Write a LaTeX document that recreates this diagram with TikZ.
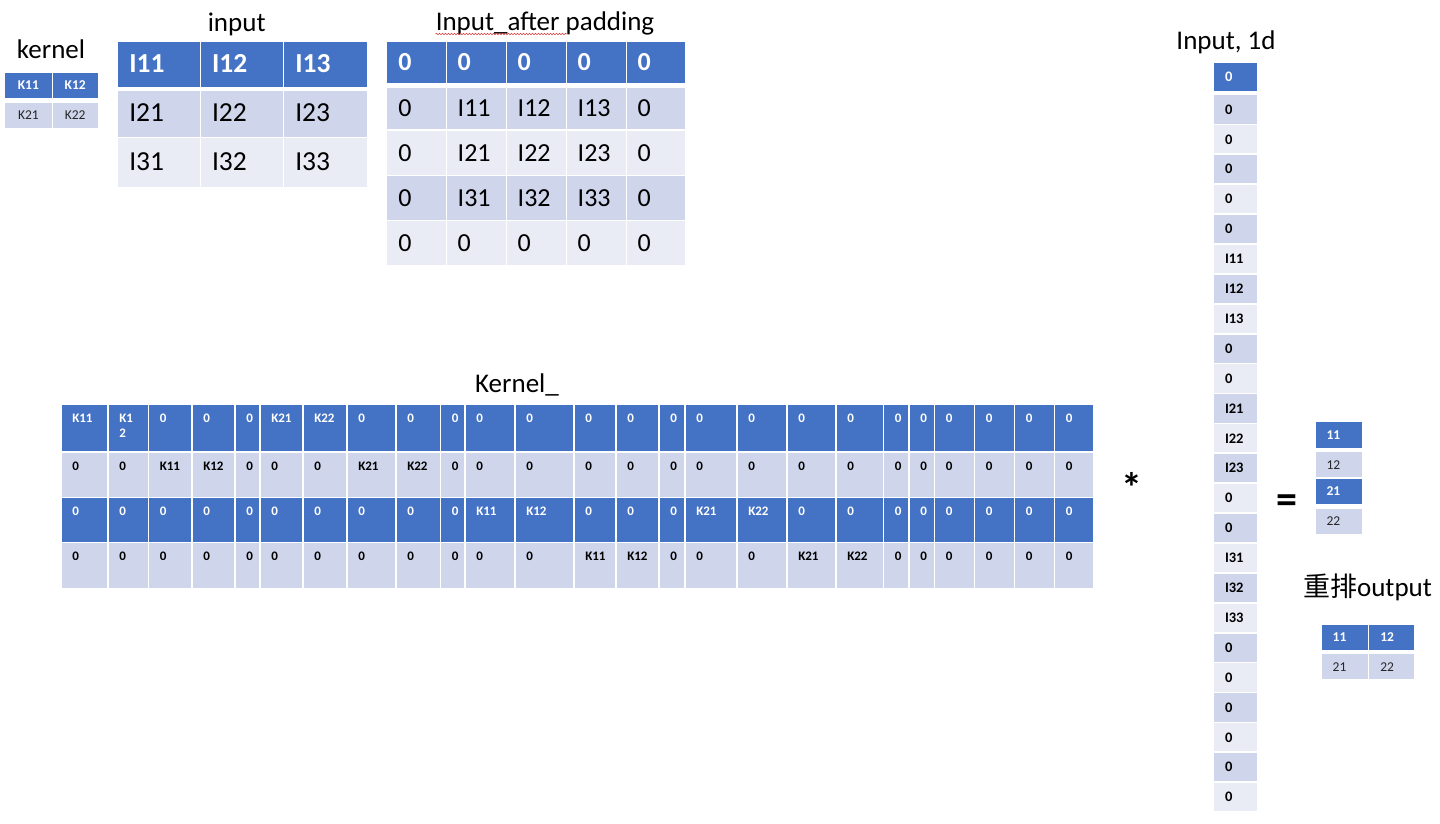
\documentclass[tikz,border=0pt]{standalone}
\usepackage{fontspec}
\setmainfont{Carlito}
\newfontfamily\cjkfont{Noto Sans CJK SC}
\usetikzlibrary{calc,decorations.pathmorphing}
\definecolor{hdrblue}{HTML}{4472C4}
\definecolor{bandA}{HTML}{CFD5EA}
\definecolor{bandB}{HTML}{E9EBF5}
\definecolor{squig}{HTML}{E03C3C}
\newcommand\mkcell[6]{\node[#1, minimum width={(#5)-(#3)}, minimum height={(#6)-(#4)}] (#2) at (#3,#4) {};}
\begin{document}
\begin{tikzpicture}[x=1pt,y=-1pt,
  box/.style={draw=none, inner sep=0pt, outer sep=0pt, anchor=north west},
  hdr/.style={box, fill=hdrblue},
  bA/.style={box, fill=bandA},
  bB/.style={box, fill=bandB},
  title/.style={inner sep=0pt, anchor=base, font=\fontsize{27}{32}\selectfont},
  txt/.style={inner sep=0pt, outer sep=0pt},
  smH/.style={txt, font=\fontsize{13.5}{16}\selectfont\bfseries, text=white},
  smL/.style={txt, font=\fontsize{13.5}{16}\selectfont, text=black!85},
  bigH/.style={txt, anchor=west, font=\fontsize{27.5}{32}\selectfont\bfseries, text=white},
  bigL/.style={txt, anchor=west, font=\fontsize{27.5}{32}\selectfont, text=black},
  padH/.style={txt, anchor=west, font=\fontsize{26}{30}\selectfont\bfseries, text=white},
  padL/.style={txt, anchor=west, font=\fontsize{26}{30}\selectfont, text=black},
  kmH/.style={txt, anchor=base west, font=\fontsize{13}{15}\selectfont\bfseries, text=white},
  kmL/.style={txt, anchor=base west, font=\fontsize{13}{15}\selectfont\bfseries, text=black},
  odH/.style={txt, anchor=west, font=\fontsize{14.5}{16}\selectfont\bfseries, text=white},
  odL/.style={txt, anchor=west, font=\fontsize{14.5}{16}\selectfont\bfseries, text=black},
  big/.style={txt, font=\fontsize{42}{42}\selectfont\bfseries}
]
\useasboundingbox[fill=white] (0,0) rectangle (1440,823);

% ---------- titles ----------
\node[title] (t-kernel) at (51,58.3) {kernel};
\node[title] (t-input) at (236.7,31) {input};
\node[title] (t-pad) at (545,30.5) {Input\_after padding};
\node[title] (t-kern2) at (517,392.7) {Kernel\_};
\node[title] (t-1d) at (1226,49.3) {Input, 1d};
\node[title] (t-out) at (1367.5,596.7) {{\cjkfont 重排}output};
\draw[squig, line width=0.6pt, decorate, decoration={snake, segment length=3pt, amplitude=0.8pt}]
  ($(t-pad.base west)+(0,3.5)$) -- ($(t-pad.base west)+(131,3.5)$);

% ---------- kernel 2x2 ----------
\mkcell{hdr}{ker-11}{5}{72.7}{51.7}{98.3}
\mkcell{hdr}{ker-12}{52.7}{72.7}{97.7}{98.3}
\mkcell{bA}{ker-21}{5}{102.7}{51.7}{127.7}
\mkcell{bA}{ker-22}{52.7}{102.7}{97.7}{127.7}
\node[smH] (kert-11) at (ker-11.center) {K11};
\node[smH] (kert-12) at (ker-12.center) {K12};
\node[smL] (kert-21) at (ker-21.center) {K21};
\node[smL] (kert-22) at (ker-22.center) {K22};

% ---------- input 3x3 ----------
\foreach \r/\ya/\yb/\s/\ts in {1/41.7/86.7/hdr/bigH, 2/90.7/136.7/bA/bigL, 3/137.7/186.7/bB/bigL}{
  \foreach \c/\xa/\xb in {1/118.3/200, 2/201/283.3, 3/284.3/366.7}{
    \mkcell{\s}{in-\r\c}{\xa}{\ya}{\xb}{\yb}
    \node[\ts] (int-\r\c) at ($(in-\r\c.west)+(11,-1)$) {I\r\c};
  }
}

% ---------- input after padding 5x5 ----------
\foreach \r/\ya/\yb/\s/\ts in {1/41.7/83.3/hdr/padH, 2/87.7/129.3/bA/padL, 3/130.7/175/bB/padL, 4/176/220/bA/padL, 5/221/265/bB/padL}{
  \foreach \c/\xa/\xb in {1/387.3/445.7, 2/446.7/505.7, 3/506.7/565.7, 4/566.7/625.7, 5/626.7/685}{
    \mkcell{\s}{pd-\r\c}{\xa}{\ya}{\xb}{\yb}
    \pgfmathtruncatemacro\ri{\r-1}
    \pgfmathtruncatemacro\ci{\c-1}
    \pgfmathtruncatemacro\inside{(\r>1)&&(\r<5)&&(\c>1)&&(\c<5)}
    \node[\ts] (pdt-\r\c) at ($(pd-\r\c.west)+(11,0)$) {\ifnum\inside=1 I\ri\ci\else 0\fi};
  }
}

% ---------- Kernel_ 4x25 ----------
\foreach \r/\o/\ya/\yb/\s/\ts in {1/0/405/450.5/hdr/kmH, 2/2/452.5/496.8/bA/kmL, 3/10/497.8/542.3/hdr/kmH, 4/12/543.3/588.3/bA/kmL}{
  \foreach \c/\xa/\xb in {1/61/108, 2/108/148.5, 3/148.5/192, 4/192/235, 5/235/260, 6/260/303, 7/303/347, 8/347/396, 9/396/440.5, 10/440.5/465, 11/465/515, 12/515/574, 13/574/616, 14/616/659, 15/659/685, 16/685/737, 17/737/787, 18/787/836, 19/836/883.5, 20/883.5/909, 21/909/934.5, 22/934.5/974.5, 23/974.5/1014.5, 24/1014.5/1054.5, 25/1054.5/1094}{
    \mkcell{\s}{km-\r-\c}{\xa+0.75}{\ya}{\xb-0.75}{\yb}
    \pgfmathtruncatemacro\d{\c-\o}
    \node[\ts] (kmt-\r-\c) at ($(km-\r-\c.north west)+(10.5,17.5)$) {\ifcase\d\relax 0\or K11\or \ifnum\r=1 K1\else K12\fi\or 0\or 0\or 0\or K21\or K22\else 0\fi};
  }
}
\node[kmH] (kmt-1-2b) at ($(km-1-2.north west)+(10.5,32.5)$) {2};

% ---------- Input, 1d ----------
\mkcell{hdr}{od-1}{1214}{63.3}{1257.3}{91}
\node[odH] (odt-1) at ($(od-1.west)+(11,0)$) {0};
\foreach \i/\t in {2/0,3/0,4/0,5/0,6/0,7/I11,8/I12,9/I13,10/0,11/0,12/I21,13/I22,14/I23,15/0,16/0,17/I31,18/I32,19/I33,20/0,21/0,22/0,23/0,24/0,25/0}{
  \pgfmathsetmacro\ya{95.3+(\i-2)*29.9}
  \pgfmathsetmacro\yb{\ya+28.2}
  \ifodd\i\def\st{bB}\else\def\st{bA}\fi
  \mkcell{\st}{od-\i}{1214}{\ya}{1257.3}{\yb}
  \node[odL] (odt-\i) at ($(od-\i.west)+(11,0)$) {\t};
}

% ---------- operators ----------
\node[big] (star) at (1132,487) {*};
\node[big] (eq) at (1287,504) {=};

% ---------- output column ----------
\mkcell{hdr}{oc-1}{1316}{422.3}{1362.3}{447.7}
\mkcell{bA}{oc-2}{1316}{452.3}{1362.3}{477.3}
\mkcell{hdr}{oc-3}{1316}{479}{1362.3}{504}
\mkcell{bA}{oc-4}{1316}{508.7}{1362.3}{533.7}
\node[smH, anchor=west] (oct-1) at ($(oc-1.west)+(10.5,0)$) {11};
\node[smL, anchor=west] (oct-2) at ($(oc-2.west)+(10.5,0)$) {12};
\node[smH, anchor=west] (oct-3) at ($(oc-3.west)+(10.5,0)$) {21};
\node[smL, anchor=west] (oct-4) at ($(oc-4.west)+(10.5,0)$) {22};

% ---------- rearranged output 2x2 ----------
\mkcell{hdr}{ro-11}{1321.7}{625}{1368.3}{650}
\mkcell{hdr}{ro-12}{1369.3}{625}{1414.3}{650}
\mkcell{bA}{ro-21}{1321.7}{654.3}{1368.3}{679.3}
\mkcell{bA}{ro-22}{1369.3}{654.3}{1414.3}{679.3}
\node[smH, anchor=west] (rot-11) at ($(ro-11.west)+(11,0)$) {11};
\node[smH, anchor=west] (rot-12) at ($(ro-12.west)+(11,0)$) {12};
\node[smL, anchor=west] (rot-21) at ($(ro-21.west)+(11,0)$) {21};
\node[smL, anchor=west] (rot-22) at ($(ro-22.west)+(11,0)$) {22};
\end{tikzpicture}
\end{document}
